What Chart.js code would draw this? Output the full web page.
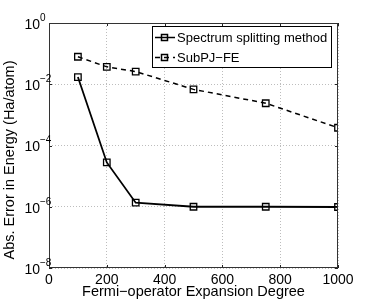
<!DOCTYPE html>
<html>
<head>
<meta charset="utf-8">
<script src="https://cdn.jsdelivr.net/npm/chart.js@4/dist/chart.umd.min.js"></script>
<style>
  html, body { margin: 0; padding: 0; background: #fff; }
  #wrap { width: 374px; height: 302px; position: relative; }
</style>
</head>
<body>
<div id="wrap"><canvas id="errChart"></canvas></div>
<script>
const degree = [100, 200, 300, 500, 750, 1000];
const splitting = [1.72e-2, 2.8e-5, 1.36e-6, 1.0e-6, 1.0e-6, 0.98e-6];
const subpj = [7.9e-2, 3.7e-2, 2.6e-2, 6.8e-3, 2.4e-3, 3.8e-4];
const yTicks = [1e-8, 1e-6, 1e-4, 1e-2, 1];
const yExp = ['\u22128', '\u22126', '\u22124', '\u22122', '0'];
const xTicks = [0, 200, 400, 600, 800, 1000];
const seriesNames = ['Spectrum splitting method', 'SubPJ\u2212FE'];

const FONT = "'Liberation Sans', Arial, sans-serif";
Chart.defaults.font.family = FONT;
Chart.defaults.color = '#000';

const pts = vals => degree.map((d, i) => ({ x: d, y: vals[i] }));

// frame, inward ticks, y labels with exponents, y title, legend
const matlabLook = {
  id: 'matlabLook',
  afterDraw(chart) {
    const { ctx, chartArea: a, scales } = chart;
    ctx.save();
    // ticks inside the box
    ctx.strokeStyle = '#222';
    ctx.lineWidth = 1;
    ctx.beginPath();
    xTicks.forEach(v => {
      const px = Math.round(scales.x.getPixelForValue(v)) + 0.5;
      ctx.moveTo(px, a.bottom); ctx.lineTo(px, a.bottom - 3);
      ctx.moveTo(px, a.top); ctx.lineTo(px, a.top + 3);
    });
    yTicks.forEach(v => {
      const py = Math.round(scales.y.getPixelForValue(v)) + 0.5;
      ctx.moveTo(a.left, py); ctx.lineTo(a.left + 3, py);
      ctx.moveTo(a.right, py); ctx.lineTo(a.right - 3, py);
    });
    ctx.stroke();
    ctx.strokeStyle = '#333';
    ctx.strokeRect(Math.round(a.left) + 0.5, Math.round(a.top) + 0.5,
      Math.round(a.right - a.left) - 1, Math.round(a.bottom - a.top) - 1);

    // y tick labels 10^n
    ctx.fillStyle = '#000';
    yTicks.forEach((v, i) => {
      const py = scales.y.getPixelForValue(v);
      ctx.font = '14px ' + FONT;
      ctx.textAlign = 'right';
      ctx.textBaseline = 'middle';
      ctx.fillText('10', 40, py + 2);
      ctx.font = '10px ' + FONT;
      ctx.textAlign = 'left';
      ctx.fillText(yExp[i], 40, py - 5);
    });

    // y title
    ctx.save();
    ctx.translate(10, 160);
    ctx.rotate(-Math.PI / 2);
    ctx.font = '14.5px ' + FONT;
    ctx.textAlign = 'center';
    ctx.textBaseline = 'middle';
    ctx.fillText('Abs. Error in Energy (Ha/atom)', 0, 0);
    ctx.restore();

    // legend
    ctx.fillStyle = '#fff';
    ctx.fillRect(152, 26, 180, 42);
    ctx.strokeStyle = '#000';
    ctx.lineWidth = 1;
    ctx.strokeRect(152.5, 26.5, 179, 41);
    const rows = [37.5, 57.5];
    chart.data.datasets.forEach((ds, i) => {
      const y = rows[i];
      ctx.strokeStyle = '#000';
      ctx.lineWidth = 1.5;
      ctx.setLineDash(ds.borderDash || []);
      ctx.beginPath(); ctx.moveTo(155, y); ctx.lineTo(175, y); ctx.stroke();
      ctx.setLineDash([]);
      ctx.strokeRect(161.5, y - 3, 6, 6);
      ctx.fillStyle = '#000';
      ctx.font = '13px ' + FONT;
      ctx.textAlign = 'left';
      ctx.textBaseline = 'middle';
      ctx.fillText(seriesNames[i], 177, y + 1);
    });
    ctx.restore();
  }
};

new Chart(document.getElementById('errChart'), {
  type: 'line',
  data: {
    datasets: [{
      label: seriesNames[0],
      data: pts(splitting),
      borderColor: '#000',
      borderWidth: 1.8,
      pointStyle: 'rect',
      pointRadius: 4.6,
      pointBorderWidth: 1.3,
      pointBorderColor: '#000',
      pointBackgroundColor: 'rgba(0,0,0,0)',
      tension: 0
    }, {
      label: seriesNames[1],
      data: pts(subpj),
      borderColor: '#000',
      borderWidth: 1.5,
      borderDash: [5, 4],
      pointStyle: 'rect',
      pointRadius: 4.6,
      pointBorderWidth: 1.3,
      pointBorderColor: '#000',
      pointBackgroundColor: 'rgba(0,0,0,0)',
      tension: 0
    }]
  },
  options: {
    responsive: true,
    maintainAspectRatio: false,
    animation: false,
    layout: { padding: { left: 0, top: 23, right: 36, bottom: 0 } },
    scales: {
      x: {
        type: 'linear',
        min: 0,
        max: 1000,
        afterBuildTicks: s => { s.ticks = xTicks.map(v => ({ value: v })); },
        afterFit: s => { s.height = 34; },
        grid: { color: '#bdbdbd', lineWidth: 1, drawTicks: false },
        border: { display: false, dash: [1, 2] },
        ticks: {
          font: { size: 14 }, color: '#000', padding: 4, maxRotation: 0,
          callback: v => String(v)
        },
        title: {
          display: true,
          text: 'Fermi\u2212operator Expansion Degree',
          font: { size: 14.5 },
          color: '#000',
          padding: { top: 0, bottom: 1 }
        }
      },
      y: {
        type: 'logarithmic',
        min: 1e-8,
        max: 1,
        afterBuildTicks: s => { s.ticks = yTicks.map(v => ({ value: v })); },
        afterFit: s => { s.width = 49; },
        grid: { color: '#bdbdbd', lineWidth: 1, drawTicks: false },
        border: { display: false, dash: [1, 2] },
        ticks: { display: false }
      }
    },
    plugins: {
      legend: { display: false },
      tooltip: { enabled: false }
    }
  },
  plugins: [matlabLook]
});
</script>
</body>
</html>
